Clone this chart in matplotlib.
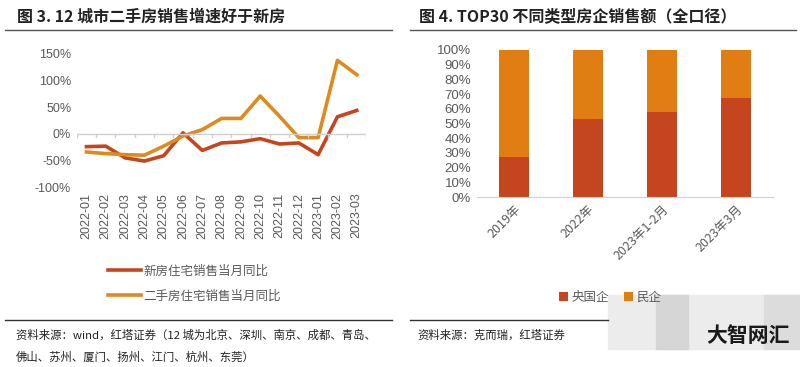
import matplotlib
matplotlib.use("Agg")
import matplotlib.pyplot as plt
import numpy as np
from matplotlib.patches import Rectangle
from matplotlib.lines import Line2D

plt.rcParams['font.family'] = ['Noto Sans CJK SC', 'DejaVu Sans']

# 左图：12城新房 / 二手房销售当月同比 (%)
meses = ["2022-01", "2022-02", "2022-03", "2022-04", "2022-05", "2022-06",
         "2022-07", "2022-08", "2022-09", "2022-10", "2022-11", "2022-12",
         "2023-01", "2023-02", "2023-03"]
nuevo = [-24, -23, -45, -51, -41, 2, -31, -17, -15, -9, -19, -17, -39, 32, 44]
segunda = [-34, -37, -39, -40, -23, -4, 8, 29, 29, 71, 33, -7, -7, 138, 111]
yticks_izq = [-100, -50, 0, 50, 100, 150]

# 右图：TOP30 房企销售额结构
periodos = ["2019年", "2022年", "2023年1-2月", "2023年3月"]
estatal = [27, 53, 57.5, 67]
privado = [100 - v for v in estatal]
yticks_der = list(range(0, 101, 10))

rojo = "#C5461E"
naranja = "#DE8A1E"
naranja_barra = "#E07E14"
gris = "#595959"

fig = plt.figure(figsize=(8, 3.67), dpi=100)

# títulos y líneas
fig.text(0.021, 0.955, "图 3. 12 城市二手房销售增速好于新房", fontsize=11.5,
         fontweight="bold", color="#222222", va="center")
fig.text(0.524, 0.955, "图 4. TOP30 不同类型房企销售额（全口径）", fontsize=11.5,
         fontweight="bold", color="#222222", va="center")
fig.add_artist(Line2D([0.006, 0.49], [0.918, 0.918], color="#555555", lw=1))
fig.add_artist(Line2D([0.512, 0.995], [0.918, 0.918], color="#555555", lw=1))
fig.add_artist(Line2D([0.006, 0.49], [0.128, 0.128], color="#333333", lw=1))
fig.add_artist(Line2D([0.512, 0.76], [0.128, 0.128], color="#333333", lw=1))

# ---- gráfico de líneas ----
ax1 = fig.add_axes([0.096, 0.49, 0.362, 0.363])
x = np.arange(len(meses))
ax1.plot(x, nuevo, color=rojo, lw=2.6, label="新房住宅销售当月同比")
ax1.plot(x, segunda, color=naranja, lw=2.6, label="二手房住宅销售当月同比")
ax1.set_xlim(-0.5, len(meses) - 0.5)
ax1.set_ylim(-100, 150)
ax1.set_yticks(yticks_izq)
ax1.set_yticklabels([f"{v}%" for v in yticks_izq], fontsize=9, color=gris,
                    family=["Liberation Sans", "DejaVu Sans"])
for s in ["top", "right", "left", "bottom"]:
    ax1.spines[s].set_visible(False)
ax1.axhline(0, color="#d0d0d0", lw=1)
for xi in np.arange(-0.5, len(meses), 1):
    ax1.plot([xi, xi], [0, -5], color="#d0d0d0", lw=1)
ax1.tick_params(axis="y", length=0, pad=4)
ax1.tick_params(axis="x", length=0, pad=4)
ax1.set_xticks(x)
ax1.set_xticklabels(meses, rotation=90, fontsize=9, color=gris,
                    family=["Liberation Sans", "DejaVu Sans"])
ax1.legend(loc="upper left", bbox_to_anchor=(0.07, -0.495), frameon=False,
           fontsize=9, handlelength=2.6, labelspacing=1.0, handletextpad=0.2,
           labelcolor=gris)

fig.text(0.02, 0.088, "资料来源：wind，红塔证券（12 城为北京、深圳、南京、成都、青岛、",
         fontsize=8.2, color="#222222", va="center")
fig.text(0.02, 0.027, "佛山、苏州、厦门、扬州、江门、杭州、东莞）",
         fontsize=8.2, color="#222222", va="center")

# ---- gráfico de barras apiladas ----
ax2 = fig.add_axes([0.596, 0.463, 0.37, 0.401])
xb = np.arange(len(periodos))
ax2.bar(xb, estatal, width=0.4, color=rojo, label="央国企")
ax2.bar(xb, privado, width=0.4, bottom=estatal, color=naranja_barra, label="民企")
ax2.set_xlim(-0.5, len(periodos) - 0.5)
ax2.set_ylim(0, 100)
ax2.set_yticks(yticks_der)
ax2.set_yticklabels([f"{v}%" for v in yticks_der], fontsize=9.5, color=gris,
                    family=["Liberation Sans", "DejaVu Sans"])
for s in ["top", "right", "left"]:
    ax2.spines[s].set_visible(False)
ax2.spines["bottom"].set_color("#d0d0d0")
ax2.tick_params(axis="y", length=0, pad=4)
ax2.tick_params(axis="x", length=0, pad=4)
ax2.set_xticks(xb)
ax2.set_xticklabels(periodos, rotation=45, ha="right", rotation_mode="anchor",
                    fontsize=9, color=gris)
ax2.legend(loc="upper center", bbox_to_anchor=(0.45, -0.56), ncol=2,
           frameon=False, fontsize=9, handlelength=0.7, handleheight=0.7,
           handletextpad=0.3, columnspacing=1.2, labelcolor=gris)

fig.text(0.522, 0.088, "资料来源：克而瑞，红塔证券", fontsize=8.2,
         color="#222222", va="center")

# marca de agua
fig.add_artist(Rectangle((0.76, 0.05), 0.24, 0.145, transform=fig.transFigure,
                         color="#ececec", zorder=0))
fig.add_artist(Rectangle((0.82, 0.05), 0.04, 0.145, transform=fig.transFigure,
                         color="#d6d6d6", zorder=0))
fig.add_artist(Rectangle((0.955, 0.05), 0.045, 0.145, transform=fig.transFigure,
                         color="#dcdcdc", zorder=0))
fig.text(0.935, 0.085, "大智网汇", fontsize=15, fontweight="bold",
         color="#1a1a1a", ha="center", va="center")

fig.savefig("out.png", dpi=100, facecolor="white")
